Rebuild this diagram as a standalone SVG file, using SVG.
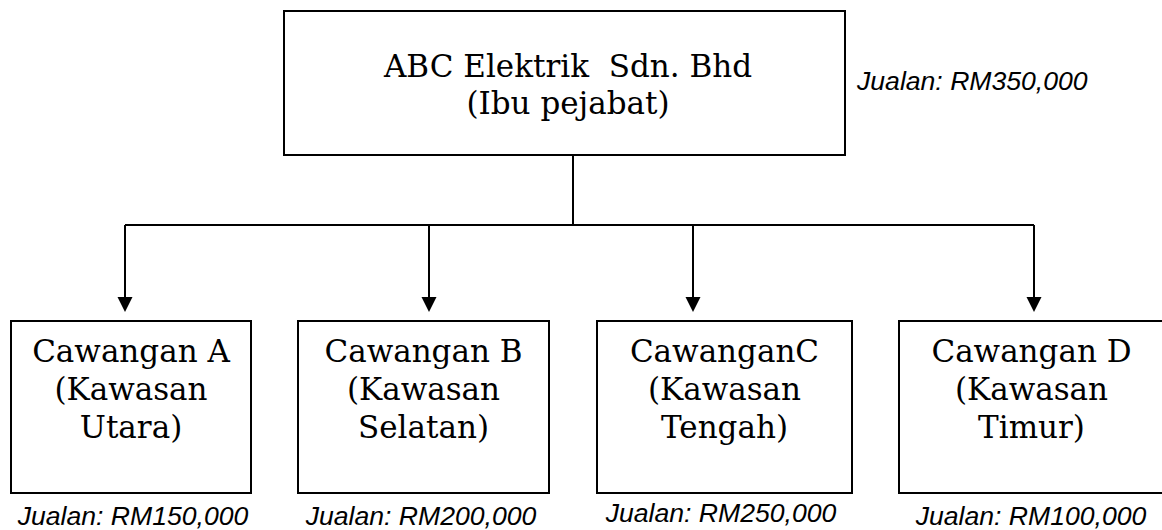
<svg xmlns="http://www.w3.org/2000/svg" width="1162" height="530" viewBox="0 0 1162 530">
<style>
.box{fill:#fff;stroke:#000;stroke-width:2}
.lbl{font-family:"DejaVu Serif","Liberation Serif",serif;font-size:31px;fill:#000;text-anchor:middle}
.sale{font-family:"Liberation Sans",Arial,sans-serif;font-size:26.6px;font-style:italic;fill:#000}
.mid{text-anchor:middle}
.con{fill:none;stroke:#000;stroke-width:2}
</style>
<rect width="1162" height="530" fill="#fff"/>
<g id="connectors">
<line class="con" x1="573" y1="155" x2="573" y2="225"/>
<line class="con" x1="125" y1="225" x2="1034" y2="225"/>
<path class="con" d="M125,225 V297"/>
<path class="con" d="M429,225 V297"/>
<path class="con" d="M693,225 V297"/>
<path class="con" d="M1034,225 V297"/>
<path d="M117.5,297 L132.5,297 L125,312 Z"/>
<path d="M421.5,297 L436.5,297 L429,312 Z"/>
<path d="M685.5,297 L700.5,297 L693,312 Z"/>
<path d="M1026.5,297 L1041.5,297 L1034,312 Z"/>
</g>
<g id="hq">
<rect class="box" x="284" y="11" width="561" height="144"/>
<text class="lbl" xml:space="preserve" x="568" y="77">ABC Elektrik  Sdn. Bhd</text>
<text class="lbl" x="568" y="114">(Ibu pejabat)</text>
<text class="sale" x="857" y="90">Jualan: RM350,000</text>
</g>
<g id="branchA">
<rect class="box" x="11" y="321" width="240" height="172"/>
<text class="lbl" x="131" y="362">Cawangan A</text>
<text class="lbl" x="131" y="400">(Kawasan</text>
<text class="lbl" x="131" y="438">Utara)</text>
<text class="sale mid" x="133" y="525">Jualan: RM150,000</text>
</g>
<g id="branchB">
<rect class="box" x="298" y="321" width="251" height="172"/>
<text class="lbl" x="423.5" y="362">Cawangan B</text>
<text class="lbl" x="423.5" y="400">(Kawasan</text>
<text class="lbl" x="423.5" y="438">Selatan)</text>
<text class="sale mid" x="421" y="525">Jualan: RM200,000</text>
</g>
<g id="branchC">
<rect class="box" x="597" y="321" width="255" height="172"/>
<text class="lbl" x="724.5" y="362">CawanganC</text>
<text class="lbl" x="724.5" y="400">(Kawasan</text>
<text class="lbl" x="724.5" y="438">Tengah)</text>
<text class="sale mid" x="721" y="522">Jualan: RM250,000</text>
</g>
<g id="branchD">
<rect class="box" x="899" y="321" width="265" height="172"/>
<text class="lbl" x="1031.5" y="362">Cawangan D</text>
<text class="lbl" x="1031.5" y="400">(Kawasan</text>
<text class="lbl" x="1031.5" y="438">Timur)</text>
<text class="sale mid" x="1031" y="525">Jualan: RM100,000</text>
</g>
</svg>
